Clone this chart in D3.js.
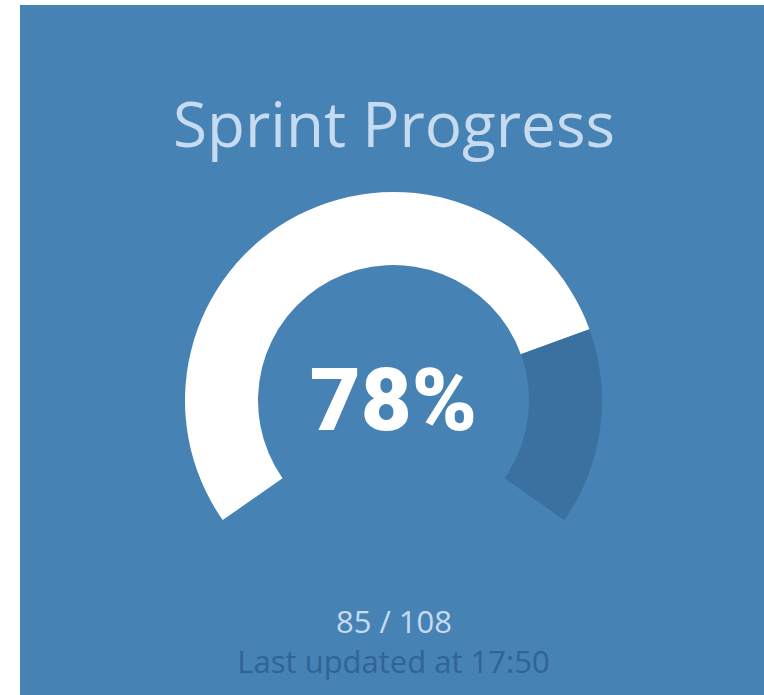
<!DOCTYPE html>
<html>
<head>
<meta charset="utf-8">
<script src="https://cdn.jsdelivr.net/npm/d3@7"></script>
<style>
  html, body { margin: 0; padding: 0; background: #ffffff; }
  svg { display: block; }
</style>
</head>
<body>
<svg id="chart" width="764" height="695"></svg>
<script>
// ---- data ----
const title = "Sprint Progress";
const completed = 85;
const total = 108;
const percentShown = 78;          // value displayed and drawn
const gaugeSegments = ["done", "remaining"];
const gaugeValues = [percentShown, 100 - percentShown];
const updatedAt = "17:50";

// ---- layout ----
const W = 764, H = 695;
const svg = d3.select("#chart");

svg.append("rect")
  .attr("x", 20).attr("y", 5)
  .attr("width", W - 20).attr("height", H - 5)
  .attr("fill", "#4682b4");

const cx = 393.5, cy = 400.5;
const outerR = 208.5, innerR = 135.5;
const startA = -125 * Math.PI / 180, endA = 125 * Math.PI / 180;

const angle = d3.scaleLinear().domain([0, 100]).range([startA, endA]);
const color = d3.scaleOrdinal().domain(gaugeSegments).range(["#ffffff", "#3a71a1"]);

const arc = d3.arc().innerRadius(innerR).outerRadius(outerR);

let acc = 0;
const segs = gaugeSegments.map((k, i) => {
  const s = acc; acc += gaugeValues[i];
  return { key: k, startAngle: angle(s), endAngle: angle(acc) };
});

const g = svg.append("g").attr("transform", `translate(${cx},${cy})`);
g.selectAll("path.seg").data(segs).join("path")
  .attr("class", "seg")
  .attr("d", arc)
  .attr("fill", d => color(d.key));

svg.append("text")
  .attr("x", 394).attr("y", 147)
  .attr("text-anchor", "middle")
  .attr("font-family", "'Open Sans', sans-serif")
  .attr("font-size", 62)
  .attr("fill", "#c6dbef")
  .text(title);

svg.append("text")
  .attr("x", 393.5).attr("y", 430)
  .attr("text-anchor", "middle")
  .attr("font-family", "Roboto, sans-serif")
  .attr("font-weight", 900)
  .attr("font-size", 88)
  .attr("fill", "#ffffff")
  .text(percentShown + "%");

svg.append("text")
  .attr("x", 394).attr("y", 633)
  .attr("text-anchor", "middle")
  .attr("font-family", "'Open Sans', sans-serif")
  .attr("font-size", 31)
  .attr("fill", "#c6dbef")
  .text(`${completed} / ${total}`);

svg.append("text")
  .attr("x", 393.5).attr("y", 673)
  .attr("text-anchor", "middle")
  .attr("font-family", "'Open Sans', sans-serif")
  .attr("font-size", 31)
  .attr("fill", "#2f6494")
  .text(`Last updated at ${updatedAt}`);
</script>
</body>
</html>
